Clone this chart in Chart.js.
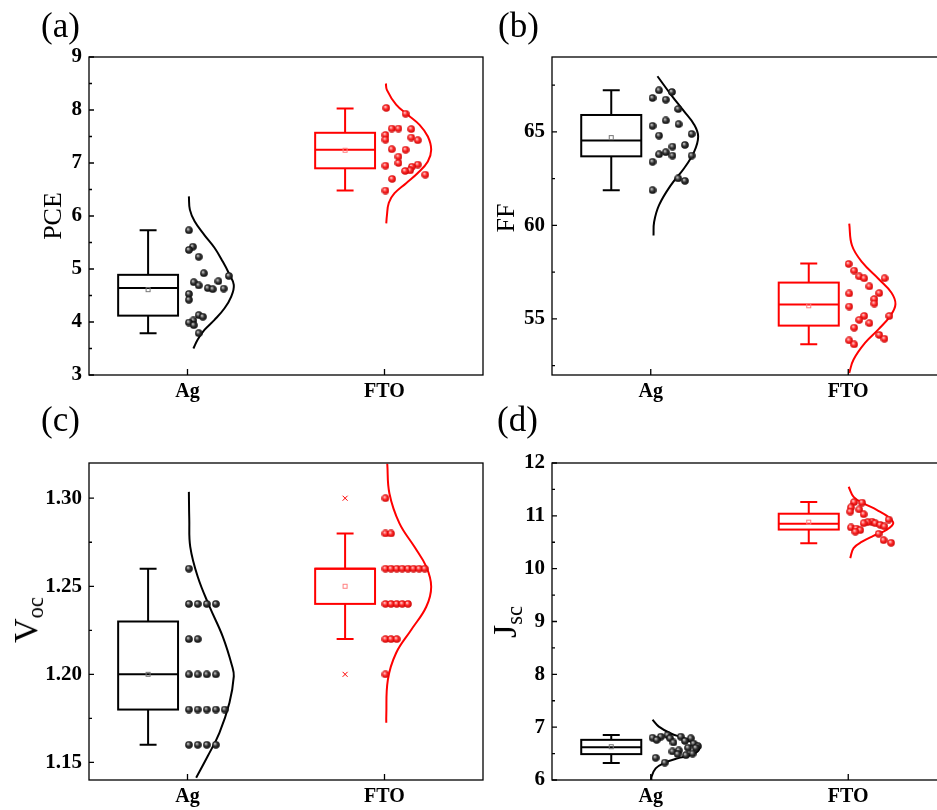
<!DOCTYPE html>
<html>
<head>
<meta charset="utf-8">
<script src="https://cdn.jsdelivr.net/npm/chart.js@4.4.1/dist/chart.umd.min.js"></script>
<style>
  html, body { margin: 0; padding: 0; background: #fff; overflow: hidden; }
  #wrap { position: relative; width: 937px; height: 810px; overflow: hidden;
          font-family: "Liberation Serif", "Times New Roman", serif; color: #000; }
  canvas { position: absolute; }
  .lbl { position: absolute; font-size: 35px; line-height: 1; white-space: nowrap; }
  .ytitle { position: absolute; white-space: nowrap; line-height: 1;
            transform: translate(-50%, -50%) rotate(-90deg); }
  .ytitle sub { font-size: 0.66em; vertical-align: -0.25em; line-height: 0; }
</style>
</head>
<body>
<div id="wrap">
  <canvas id="cA" width="490" height="412" style="left:0;top:0"></canvas>
  <canvas id="cB" width="490" height="412" style="left:470px;top:0"></canvas>
  <canvas id="cC" width="490" height="410" style="left:0;top:400px"></canvas>
  <canvas id="cD" width="490" height="410" style="left:470px;top:400px"></canvas>

  <div class="lbl" style="left:41px;top:8px">(a)</div>
  <div class="lbl" style="left:498px;top:8px">(b)</div>
  <div class="lbl" style="left:41px;top:402px">(c)</div>
  <div class="lbl" style="left:497px;top:402px">(d)</div>

  <div class="ytitle" style="left:53px;top:216px;font-size:26px">PCE</div>
  <div class="ytitle" style="left:506px;top:218px;font-size:26px">FF</div>
  <div class="ytitle" style="left:26px;top:620px;font-size:34px">V<sub>oc</sub></div>
  <div class="ytitle" style="left:505px;top:622px;font-size:34px">J<sub>sc</sub></div>
</div>

<script>
var FONT = '"Liberation Serif", "Times New Roman", serif';
var BLACK = "#000000";
var RED = "#ff0000";

var CATEGORIES = ["Ag", "FTO"];

// box stats: [lower whisker, Q1, median, Q3, upper whisker, mean]

// (a) PCE
var pceTicks = [3, 4, 5, 6, 7, 8, 9];
var pceAgBox = [3.79, 4.12, 4.64, 4.89, 5.73, 4.61];
var pceFtoBox = [6.48, 6.90, 7.25, 7.57, 8.03, 7.24];
var pceAgY = [5.73, 5.42, 5.36, 5.23, 4.92, 4.87, 4.77, 4.75, 4.69, 4.64, 4.63, 4.62, 4.53, 4.42, 4.13, 4.10, 4.03, 3.99, 3.94, 3.79];
var pceAgX = [0.007, 0.027, 0.007, 0.057, 0.083, 0.210, 0.157, 0.032, 0.057, 0.103, 0.184, 0.128, 0.007, 0.007, 0.057, 0.078, 0.030, 0.007, 0.032, 0.057];
var pceFtoY = [8.04, 7.93, 7.65, 7.65, 7.64, 7.53, 7.48, 7.44, 7.43, 7.26, 7.25, 7.12, 7.00, 6.97, 6.95, 6.93, 6.86, 6.85, 6.78, 6.70, 6.48];
var pceFtoX = [0.009, 0.107, 0.037, 0.071, 0.136, 0.005, 0.136, 0.005, 0.169, 0.037, 0.107, 0.071, 0.071, 0.169, 0.005, 0.139, 0.130, 0.105, 0.207, 0.039, 0.005];
var pceAgCurveY = [6.37, 6.12, 5.90, 5.64, 5.40, 5.14, 4.92, 4.70, 4.48, 4.26, 4.04, 3.85, 3.67, 3.50];
var pceAgCurveX = [0.007, 0.012, 0.036, 0.086, 0.137, 0.179, 0.210, 0.235, 0.222, 0.188, 0.137, 0.086, 0.052, 0.030];
var pceFtoCurveY = [8.50, 8.38, 8.10, 7.91, 7.72, 7.50, 7.25, 7.03, 6.81, 6.62, 6.43, 6.25, 6.00, 5.86];
var pceFtoCurveX = [0.007, 0.012, 0.059, 0.118, 0.178, 0.220, 0.237, 0.220, 0.169, 0.110, 0.051, 0.022, 0.012, 0.009];

// (b) FF
var ffTicks = [55, 60, 65];
var ffAgBox = [61.88, 63.69, 64.53, 65.90, 67.22, 64.69];
var ffFtoBox = [53.64, 54.64, 55.77, 56.94, 57.96, 55.70];
var ffAgY = [67.22, 67.13, 66.81, 66.72, 66.22, 65.61, 65.41, 65.32, 64.89, 64.80, 64.30, 64.21, 63.91, 63.80, 63.73, 63.73, 63.40, 62.51, 62.38, 61.88];
var ffAgX = [0.042, 0.107, 0.009, 0.076, 0.139, 0.076, 0.141, 0.009, 0.207, 0.042, 0.173, 0.110, 0.076, 0.042, 0.110, 0.207, 0.009, 0.139, 0.173, 0.009];
var ffFtoY = [57.94, 57.58, 57.27, 57.17, 57.17, 56.74, 56.38, 56.36, 56.06, 55.82, 55.66, 55.16, 55.16, 54.95, 54.77, 54.53, 54.14, 53.94, 53.85, 53.64];
var ffFtoX = [0.002, 0.030, 0.056, 0.081, 0.184, 0.107, 0.157, 0.005, 0.132, 0.132, 0.005, 0.208, 0.081, 0.056, 0.107, 0.030, 0.157, 0.183, 0.005, 0.030];
var ffAgCurveY = [67.97, 66.99, 66.09, 65.38, 64.75, 63.94, 63.05, 62.15, 61.08, 60.18, 59.46];
var ffAgCurveX = [0.034, 0.102, 0.169, 0.220, 0.240, 0.220, 0.169, 0.102, 0.042, 0.017, 0.014];
var ffFtoCurveY = [60.09, 58.92, 58.03, 57.13, 56.41, 55.79, 55.16, 54.45, 53.73, 52.83, 52.11];
var ffFtoCurveX = [0.005, 0.019, 0.070, 0.154, 0.218, 0.239, 0.213, 0.154, 0.086, 0.027, 0.005];

// (c) Voc
var vocTicks = [1.15, 1.20, 1.25, 1.30];
var vocAgBox = [1.16, 1.18, 1.20, 1.23, 1.26, 1.20];
var vocFtoBox = [1.22, 1.24, 1.26, 1.26, 1.28, 1.25];
var vocFtoOutliers = [1.30, 1.20];
var vocAgY = [1.26, 1.24, 1.24, 1.24, 1.24, 1.22, 1.22, 1.20, 1.20, 1.20, 1.20, 1.18, 1.18, 1.18, 1.18, 1.18, 1.16, 1.16, 1.16, 1.16];
var vocAgX = [0.007, 0.007, 0.052, 0.098, 0.144, 0.007, 0.052, 0.007, 0.052, 0.098, 0.144, 0.007, 0.052, 0.098, 0.144, 0.189, 0.007, 0.052, 0.098, 0.144];
var vocFtoY = [1.30, 1.28, 1.28, 1.26, 1.26, 1.26, 1.26, 1.26, 1.26, 1.26, 1.26, 1.24, 1.24, 1.24, 1.24, 1.24, 1.22, 1.22, 1.22, 1.20];
var vocFtoX = [0.005, 0.005, 0.033, 0.005, 0.033, 0.062, 0.090, 0.119, 0.147, 0.176, 0.204, 0.005, 0.033, 0.062, 0.090, 0.119, 0.005, 0.033, 0.062, 0.005];
var vocAgCurveY = [1.3036, 1.2880, 1.2724, 1.2554, 1.2384, 1.2214, 1.2045, 1.1988, 1.1838, 1.1668, 1.1536, 1.1413];
var vocAgCurveX = [0.007, 0.009, 0.014, 0.052, 0.112, 0.179, 0.227, 0.235, 0.213, 0.162, 0.103, 0.044];
var vocFtoCurveY = [1.3196, 1.3027, 1.2857, 1.2724, 1.2611, 1.2498, 1.2384, 1.2253, 1.2121, 1.1969, 1.1762, 1.1725];
var vocFtoCurveX = [0.014, 0.025, 0.076, 0.152, 0.212, 0.237, 0.212, 0.136, 0.059, 0.017, 0.009, 0.009];

// (d) Jsc
var jscTicks = [6, 7, 8, 9, 10, 11, 12];
var jscAgBox = [6.32, 6.49, 6.62, 6.76, 6.85, 6.63];
var jscFtoBox = [10.48, 10.74, 10.85, 11.04, 11.26, 10.88];
var jscAgY = [6.85, 6.82, 6.82, 6.80, 6.79, 6.79, 6.76, 6.74, 6.71, 6.69, 6.64, 6.61, 6.61, 6.56, 6.54, 6.50, 6.49, 6.47, 6.42, 6.33];
var jscAgX = [0.085, 0.051, 0.152, 0.009, 0.098, 0.203, 0.030, 0.173, 0.115, 0.217, 0.239, 0.228, 0.189, 0.142, 0.110, 0.212, 0.136, 0.178, 0.025, 0.071];
var jscFtoY = [11.26, 11.25, 11.16, 11.12, 11.08, 11.03, 10.93, 10.89, 10.88, 10.86, 10.86, 10.83, 10.80, 10.78, 10.76, 10.73, 10.70, 10.66, 10.54, 10.49];
var jscFtoX = [0.030, 0.070, 0.014, 0.056, 0.010, 0.078, 0.205, 0.120, 0.098, 0.137, 0.078, 0.162, 0.183, 0.014, 0.041, 0.061, 0.036, 0.154, 0.179, 0.217];
var jscAgCurveY = [7.14, 7.01, 6.88, 6.79, 6.66, 6.57, 6.47, 6.41, 6.32, 6.22, 6.06, 6.00];
var jscAgCurveX = [0.009, 0.041, 0.102, 0.168, 0.228, 0.244, 0.203, 0.136, 0.066, 0.025, 0.004, 0.003];
var jscFtoCurveY = [11.55, 11.36, 11.24, 11.11, 10.98, 10.86, 10.74, 10.62, 10.51, 10.39, 10.20];
var jscFtoCurveX = [0.002, 0.027, 0.076, 0.146, 0.203, 0.228, 0.196, 0.127, 0.070, 0.027, 0.010];

// little shaded balls, like the original markers
function makeBall(hi, mid, edge) {
  var s = 8;
  var cv = document.createElement("canvas");
  cv.width = s; cv.height = s;
  var g = cv.getContext("2d");
  var grd = g.createRadialGradient(s * 0.36, s * 0.34, 0.2, s / 2, s / 2, s / 2);
  grd.addColorStop(0, hi);
  grd.addColorStop(0.45, mid);
  grd.addColorStop(1, edge);
  g.fillStyle = grd;
  g.beginPath();
  g.arc(s / 2, s / 2, s / 2 - 0.2, 0, Math.PI * 2);
  g.fill();
  return cv;
}
var blackBall = makeBall("#d8d8d8", "#3a3a3a", "#000000");
var redBall = makeBall("#ffe0e0", "#ff2a2a", "#c80000");

function toPoints(cat, xs, ys) {
  return ys.map(function (v, i) { return { x: cat + xs[i], y: v }; });
}

// box plots drawn through the chart's own scales
function boxPlugin(items) {
  return {
    id: "boxes",
    afterDatasetsDraw: function (chart) {
      var c = chart.ctx, xs = chart.scales.x, ys = chart.scales.y;
      items.forEach(function (it, i) {
        var center = i + 1 - 0.2;
        var cx = xs.getPixelForValue(center);
        var hw = xs.getPixelForValue(center + 0.152) - cx;
        var cw = xs.getPixelForValue(center + 0.043) - cx;
        var b = it.box;
        var yLo = ys.getPixelForValue(b[0]);
        var yQ1 = ys.getPixelForValue(b[1]);
        var yMed = ys.getPixelForValue(b[2]);
        var yQ3 = ys.getPixelForValue(b[3]);
        var yHi = ys.getPixelForValue(b[4]);
        var yMean = ys.getPixelForValue(b[5]);
        c.save();
        c.strokeStyle = it.color;
        c.lineWidth = 2;
        c.beginPath();
        c.moveTo(cx, yHi); c.lineTo(cx, yQ3);
        c.moveTo(cx, yQ1); c.lineTo(cx, yLo);
        c.moveTo(cx - cw, yHi); c.lineTo(cx + cw, yHi);
        c.moveTo(cx - cw, yLo); c.lineTo(cx + cw, yLo);
        c.moveTo(cx - hw, yMed); c.lineTo(cx + hw, yMed);
        c.stroke();
        c.strokeRect(cx - hw, yQ3, 2 * hw, yQ1 - yQ3);
        c.lineWidth = 1;
        c.strokeStyle = it.meanColor;
        c.strokeRect(cx - 2, yMean - 2, 4, 4);
        (it.outliers || []).forEach(function (v) {
          var y = ys.getPixelForValue(v);
          c.strokeStyle = it.color;
          c.beginPath();
          c.moveTo(cx - 2.5, y - 2.5); c.lineTo(cx + 2.5, y + 2.5);
          c.moveTo(cx + 2.5, y - 2.5); c.lineTo(cx - 2.5, y + 2.5);
          c.stroke();
        });
        c.restore();
      });
    }
  };
}

// frame plus inward ticks (major, half-step minor, and category ticks)
function framePlugin(majors) {
  return {
    id: "frame",
    afterDraw: function (chart) {
      var c = chart.ctx, a = chart.chartArea, xs = chart.scales.x, ys = chart.scales.y;
      var step = majors[1] - majors[0];
      var minors = [];
      for (var v = majors[0] - step / 2; v <= ys.max + 1e-9; v += step) {
        if (v >= ys.min - 1e-9) minors.push(v);
      }
      c.save();
      c.strokeStyle = "#000";
      c.lineWidth = 1.3;
      c.strokeRect(a.left, a.top, a.right - a.left, a.bottom - a.top);
      c.beginPath();
      majors.forEach(function (m) {
        var y = ys.getPixelForValue(m);
        c.moveTo(a.left, y); c.lineTo(a.left + 5, y);
      });
      minors.forEach(function (m) {
        var y = ys.getPixelForValue(m);
        c.moveTo(a.left, y); c.lineTo(a.left + 3, y);
      });
      [1, 2].forEach(function (k) {
        var x = xs.getPixelForValue(k);
        c.moveTo(x, a.bottom); c.lineTo(x, a.bottom - 6);
      });
      c.stroke();
      c.restore();
    }
  };
}

function makePanel(id, cfg) {
  var datasets = [
    { data: toPoints(1, cfg.agX, cfg.agY), pointStyle: blackBall, pointRadius: 4, showLine: false },
    { data: toPoints(2, cfg.ftoX, cfg.ftoY), pointStyle: redBall, pointRadius: 4, showLine: false },
    { data: toPoints(1, cfg.agCurveX, cfg.agCurveY), showLine: true, tension: 0.4, borderColor: BLACK,
      borderWidth: 2, pointRadius: 0, fill: false },
    { data: toPoints(2, cfg.ftoCurveX, cfg.ftoCurveY), showLine: true, tension: 0.4, borderColor: RED,
      borderWidth: 2, pointRadius: 0, fill: false }
  ];

  return new Chart(document.getElementById(id), {
    type: "scatter",
    data: { datasets: datasets },
    plugins: [
      boxPlugin([
        { box: cfg.agBox, color: BLACK, meanColor: "#777777" },
        { box: cfg.ftoBox, color: RED, meanColor: "#ff8080", outliers: cfg.ftoOutliers }
      ]),
      framePlugin(cfg.ticks)
    ],
    options: {
      responsive: false,
      animation: false,
      events: [],
      layout: { padding: { left: 0, top: cfg.padTop, right: cfg.padRight, bottom: 0 } },
      plugins: { legend: { display: false }, tooltip: { enabled: false } },
      scales: {
        x: {
          type: "linear",
          min: 0.5,
          max: 2.5,
          grid: { display: false, drawTicks: false },
          border: { display: false },
          afterBuildTicks: function (s) { s.ticks = [{ value: 1 }, { value: 2 }]; },
          afterFit: function (s) { s.height = cfg.xHeight; },
          ticks: {
            autoSkip: false,
            maxRotation: 0,
            padding: 5,
            color: "#000",
            font: { family: FONT, size: 20, weight: "bold" },
            callback: function (v) { return CATEGORIES[Math.round(v) - 1]; }
          }
        },
        y: {
          type: "linear",
          min: cfg.min,
          max: cfg.max,
          grid: { display: false, drawTicks: false },
          border: { display: false },
          afterBuildTicks: function (s) {
            s.ticks = cfg.ticks.map(function (v) { return { value: v }; });
          },
          afterFit: function (s) { s.width = cfg.yWidth; },
          ticks: {
            padding: 7,
            color: "#000",
            font: { family: FONT, size: 21, weight: "bold" },
            callback: function (v) { return Number(v).toFixed(cfg.decimals); }
          }
        }
      }
    }
  });
}

makePanel("cA", {
  min: 3, max: 9, ticks: pceTicks, decimals: 0,
  agBox: pceAgBox, ftoBox: pceFtoBox,
  agX: pceAgX, agY: pceAgY, ftoX: pceFtoX, ftoY: pceFtoY,
  agCurveX: pceAgCurveX, agCurveY: pceAgCurveY, ftoCurveX: pceFtoCurveX, ftoCurveY: pceFtoCurveY,
  padTop: 57, padRight: 7, xHeight: 37, yWidth: 89
});

makePanel("cB", {
  min: 52, max: 69, ticks: ffTicks, decimals: 0,
  agBox: ffAgBox, ftoBox: ffFtoBox,
  agX: ffAgX, agY: ffAgY, ftoX: ffFtoX, ftoY: ffFtoY,
  agCurveX: ffAgCurveX, agCurveY: ffAgCurveY, ftoCurveX: ffFtoCurveX, ftoCurveY: ffFtoCurveY,
  padTop: 57, padRight: 13, xHeight: 37, yWidth: 82
});

makePanel("cC", {
  min: 1.14, max: 1.32, ticks: vocTicks, decimals: 2,
  agBox: vocAgBox, ftoBox: vocFtoBox, ftoOutliers: vocFtoOutliers,
  agX: vocAgX, agY: vocAgY, ftoX: vocFtoX, ftoY: vocFtoY,
  agCurveX: vocAgCurveX, agCurveY: vocAgCurveY, ftoCurveX: vocFtoCurveX, ftoCurveY: vocFtoCurveY,
  padTop: 63, padRight: 7, xHeight: 30, yWidth: 89
});

makePanel("cD", {
  min: 6, max: 12, ticks: jscTicks, decimals: 0,
  agBox: jscAgBox, ftoBox: jscFtoBox,
  agX: jscAgX, agY: jscAgY, ftoX: jscFtoX, ftoY: jscFtoY,
  agCurveX: jscAgCurveX, agCurveY: jscAgCurveY, ftoCurveX: jscFtoCurveX, ftoCurveY: jscFtoCurveY,
  padTop: 63, padRight: 13, xHeight: 30, yWidth: 82
});
</script>
</body>
</html>
